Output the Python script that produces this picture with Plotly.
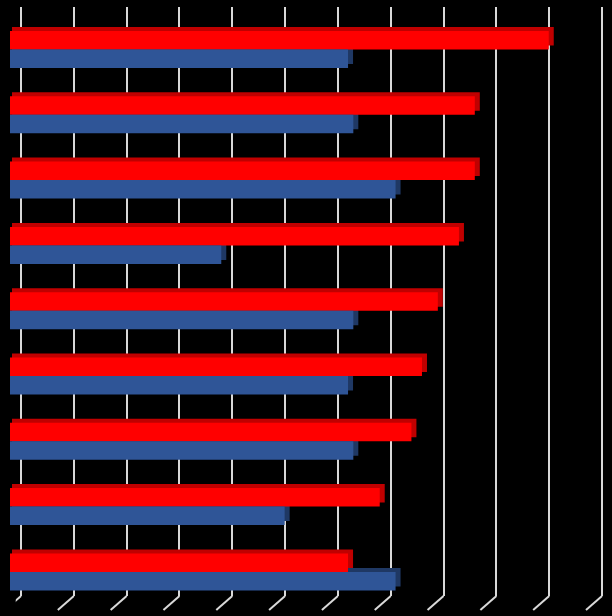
import plotly.graph_objects as go

# chart data (no labels are shown in the picture)
categories = ["A", "B", "C", "D", "E", "F", "G", "H", "I"]   # top to bottom
red_values = [102, 88, 88, 85, 81, 78, 76, 70, 64]
blue_values = [64, 65, 73, 40, 65, 64, 65, 52, 73]
tick_values = list(range(0, 111, 10))

W, H = 612, 616
RED, RED_DARK = "#ff0000", "#c00000"
BLUE, BLUE_DARK = "#2f5597", "#1f3864"
GRID = "#d9d9d9"


def fx(px):
    return px / W


def fy(px):
    # pixel from top -> paper fraction from bottom
    return 1 - px / H


# geometry of the fake 3d chart (pixels)
x0_front = 10           # value 0 of the bars
unit = 581 / 110        # pixels per value unit
row_h = 65.3            # pixels per category
first_mid = 49.5        # centre of first group
depth = 5               # extrusion offset
bar_w = 18.5 / row_h
lead = 3 / unit         # shadow starts a little left of its own zero

y_top = first_mid - 0.5 * row_h
y_bot = first_mid + (len(categories) - 0.5) * row_h

fig = go.Figure()

# grid on the back wall (subplot x/y, drawn first)
fig.add_trace(go.Scatter(x=[0], y=[0], mode="markers", marker=dict(opacity=0),
                         hoverinfo="skip", showlegend=False, xaxis="x", yaxis="y"))

# extruded depth (darker copies shifted up and right), then front faces
for ax, col_r, col_b, b in [("2", RED_DARK, BLUE_DARK, -lead), ("3", RED, BLUE, 0)]:
    fig.add_trace(go.Bar(y=categories, x=[v - b for v in red_values], base=b,
                         orientation="h",
                         marker=dict(color=col_r, line=dict(width=0)),
                         width=bar_w, offset=-bar_w, showlegend=False,
                         xaxis="x" + ax, yaxis="y" + ax))
    fig.add_trace(go.Bar(y=categories, x=[v - b for v in blue_values], base=b,
                         orientation="h",
                         marker=dict(color=col_b, line=dict(width=0)),
                         width=bar_w, offset=0, showlegend=False,
                         xaxis="x" + ax, yaxis="y" + ax))

hidden = dict(showgrid=False, zeroline=False, showticklabels=False,
              ticks="", showline=False)

grid_left = 21
fig.update_layout(
    width=W, height=H,
    margin=dict(l=0, r=0, t=0, b=0),
    paper_bgcolor="black", plot_bgcolor="rgba(0,0,0,0)",
    barmode="overlay",
    xaxis=dict(domain=[fx(grid_left - unit * 1), fx(grid_left + unit * 111)],
               range=[-1, 111], tickvals=tick_values, showgrid=True,
               gridcolor=GRID, gridwidth=2, zeroline=False,
               showticklabels=False, ticks="", fixedrange=True),
    yaxis=dict(domain=[fy(596), fy(7)], range=[0, 1], **hidden),
    xaxis2=dict(domain=[fx(x0_front + depth - 3), fx(x0_front + depth + unit * 110)],
                range=[-lead, 110], anchor="y2", **hidden),
    yaxis2=dict(domain=[fy(y_bot - depth + 1), fy(y_top - depth + 1)], anchor="x2",
                type="category", categoryarray=categories, autorange="reversed",
                **hidden),
    xaxis3=dict(domain=[fx(x0_front), fx(x0_front + unit * 110)],
                range=[0, 110], anchor="y3", **hidden),
    yaxis3=dict(domain=[fy(y_bot), fy(y_top)], anchor="x3",
                type="category", categoryarray=categories, autorange="reversed",
                **hidden),
)

# floor lines running toward the viewer from each grid line
slant = 16 / unit
for v in tick_values:
    fig.add_shape(type="line", xref="x", yref="paper",
                  x0=v, y0=fy(596), x1=v - slant, y1=fy(610),
                  line=dict(color=GRID, width=2), layer="below")

fig.write_html("out.html", config={"displayModeBar": False},
               post_script="document.body.style.margin='0';")
